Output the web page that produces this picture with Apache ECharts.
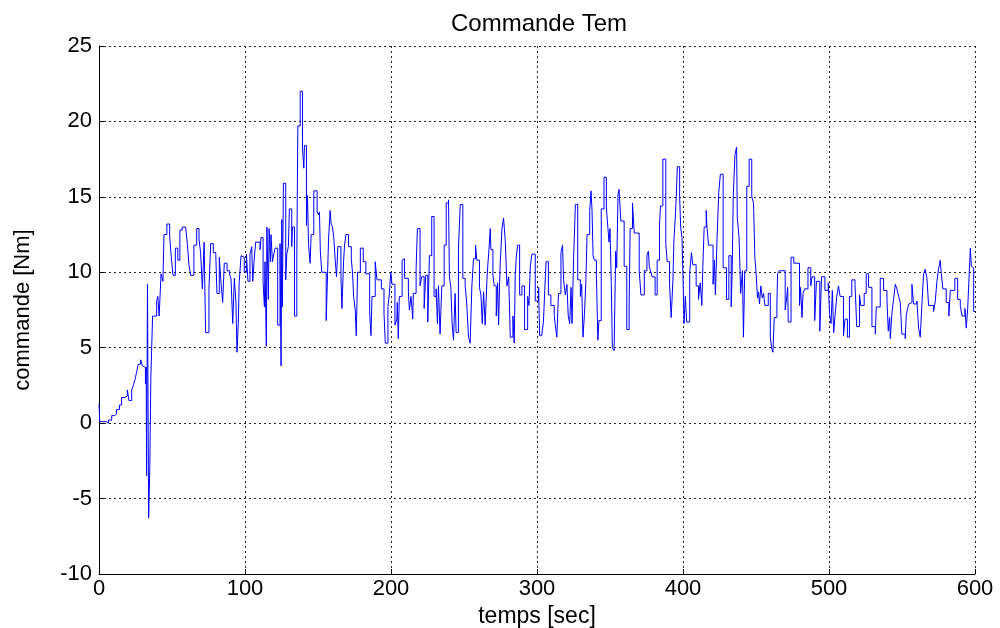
<!DOCTYPE html>
<html>
<head>
<meta charset="utf-8">
<title>Commande Tem</title>
<script src="https://cdn.jsdelivr.net/npm/echarts@6/dist/echarts.min.js"></script>
<style>
  html, body { margin: 0; padding: 0; background: #ffffff; overflow: hidden; }
  #chart { width: 1000px; height: 628px; }
</style>
</head>
<body>
<div id="chart"></div>
<script>
// Couple de commande Tem (Nm) en fonction du temps (s), échantillons [temps, commande]
const tem_0_100 = [
  [0, 1.3], [0.5, 0.1], [5, 0.0], [6.5, 0.2], [8.7, 0.5], [10.5, 0.6], [12, 0.9], [14, 1.2],
  [15.5, 1.7], [17.8, 1.8], [19.4, 2.2], [20.5, 1.5], [22.4, 2.2], [23.5, 2.5], [24.7, 2.9],
  [25.8, 3.4], [26.9, 3.9], [28.5, 4.2], [29.8, 3.8], [30.8, 3.7], [31.8, 2.6], [32.3, 3.7],
  [32.6, -3.5], [33.2, 9.2], [34, -6.3], [34.8, -3.0], [35.5, 3.0], [36.7, 7.1], [39.5, 8.1],
  [40.3, 8.4], [41.2, 7.1], [42.5, 9.9], [43.8, 9.4], [44.5, 12.5], [46.5, 13.2], [48.4, 12.4],
  [49.5, 11.0], [50.7, 9.8], [52.3, 11.6], [54, 10.8], [55.4, 12.8], [57, 13.0], [59.3, 13.1],
  [60.5, 11.9], [61.6, 10.5], [62.8, 9.8], [65, 11.8], [66.9, 12.9], [68.5, 12.2], [69.6, 11.3],
  [70.8, 8.9], [72, 12.0], [73, 6.0], [75.3, 8.9], [76.5, 11.9], [78.3, 11.3], [80, 11.1],
  [80.8, 8.6], [82.4, 11.0], [83.5, 9.4], [84.7, 8.0], [85.8, 10.6], [87.7, 10.1], [89.3, 9.9],
  [90.4, 9.6], [91.6, 6.6], [92.7, 9.6], [93.8, 8.0], [94.5, 4.7], [95.4, 6.6], [96, 9.3],
  [97.3, 11.1], [98.4, 11.0], [99.5, 10.0]
];

const tem_100_200 = [
  [100, 10.0], [101, 11.2], [102, 9.4], [103.4, 11.2], [104.6, 11.7], [105.3, 9.4], [106.4, 11.0],
  [107.3, 12.0], [110.3, 11.5], [111, 12.3], [112.4, 9.3], [113.3, 7.7], [113.7, 10.7], [114.6, 5.1],
  [115, 13.0], [116, 8.2], [116.5, 12.9], [117.4, 10.7], [117.8, 12.5], [118.8, 10.7], [119.7, 11.2],
  [120.6, 11.6], [122.4, 6.5], [124, 11.9], [124.7, 3.8], [125.2, 13.5], [125.6, 7.7], [126.3, 15.9],
  [127.9, 9.5], [128.6, 11.2], [129.7, 11.7], [130.4, 14.2], [132, 11.7], [132.5, 13.0], [133.9, 7.1],
  [135.5, 11.2], [136.2, 19.7], [137.8, 22.0], [139.4, 18.2], [140.3, 16.9], [140.7, 18.4], [142.1, 13.1],
  [142.8, 15.1], [143.5, 11.9], [144.6, 10.6], [145.3, 12.5], [147.1, 15.4], [149.4, 14.0], [150.3, 13.8],
  [151, 14.0], [151.6, 11.4], [152.6, 10.0], [155.6, 6.8], [156.3, 9.0], [157.2, 12.1], [158.3, 14.1],
  [159, 13.2], [159.9, 13.0], [160.8, 12.3], [161.8, 10.8], [162.7, 9.7], [163.6, 11.7], [165.7, 9.7],
  [166.4, 7.6], [167.5, 10.7], [168.2, 11.8], [169.1, 12.5], [170.9, 11.7], [172.8, 10.9], [173.7, 9.9],
  [174.4, 8.4], [175.5, 7.5], [176.2, 5.8], [177.1, 10.0], [179, 11.6], [181, 10.7], [182.8, 9.9],
  [185.4, 7.3], [186.3, 5.8], [187, 8.4], [189.2, 10.7], [190.4, 9.5], [193.4, 8.9], [195.2, 7.3],
  [196.1, 5.3], [197.9, 7.7], [198.9, 8.6], [199.8, 10.0]
];

const tem_200_300 = [
  [200.7, 9.2], [202.7, 6.5], [204, 6.9], [204.3, 8.0], [205, 5.6], [205.7, 8.4], [207.6, 10.8],
  [208.5, 10.9], [209.2, 9.6], [211.9, 8.7], [212.6, 7.5], [213.7, 8.4], [214.9, 6.9], [215.3, 8.6],
  [217.2, 10.3], [218.1, 12.9], [219.9, 9.1], [221, 9.7], [222.7, 7.6], [223.8, 9.8], [225.2, 6.7],
  [226.3, 11.1], [227.9, 13.7], [229.5, 8.4], [230.9, 8.9], [231.8, 6.6], [232.5, 9.1], [233.6, 5.9],
  [234.8, 9.1], [236.4, 11.8], [237.8, 14.6], [239.4, 14.8], [240, 9.7], [241, 9.0], [241.9, 6.5],
  [242.8, 5.5], [243.9, 8.6], [244.6, 6.0], [246.2, 11.5], [247.4, 14.5], [249.2, 9.6], [250.8, 9.1],
  [251.9, 7.9], [253.1, 5.7], [254.2, 5.3], [255.4, 9.1], [256.5, 10.9], [257.9, 11.8], [258.8, 10.8],
  [260.6, 9.0], [261.6, 8.5], [262.5, 6.6], [263.4, 8.7], [264.5, 6.5], [265.7, 9.5], [266.4, 10.6],
  [267.1, 11.5], [268, 12.9], [268.4, 11.5], [269.8, 9.8], [270.7, 9.1], [272.1, 7.1], [273, 9.3],
  [273.7, 6.5], [274.4, 9.3], [274.8, 10.6], [276, 12.9], [277.1, 13.6], [278.3, 12.0], [279.4, 9.1],
  [280.6, 9.7], [281.7, 5.7], [283.5, 7.1], [284.4, 5.3], [285.1, 9.8], [285.8, 11.0], [286.7, 11.8],
  [288.1, 8.5], [289.7, 9.1], [291.5, 6.2], [293.6, 8.4], [294.5, 7.8], [295.4, 10.4], [296.5, 11.2],
  [298.8, 8.1], [301.1, 9.0], [301.8, 5.8]
];

const tem_300_400 = [
  [303.2, 5.9], [304.4, 6.7], [305.3, 8.8], [306.2, 10.7], [307.8, 8.5], [309.5, 7.8], [311.8, 7.2],
  [312.4, 6.6], [313.6, 5.7], [314.7, 8.6], [316.4, 11.3], [317.5, 11.8], [318.2, 9.5], [319.4, 8.5],
  [320.5, 9.2], [321.4, 7.1], [322.4, 6.6], [323.3, 9.0], [324, 6.6], [325.1, 11.0], [326.3, 14.5],
  [327.9, 9.5], [329.7, 8.4], [330.6, 9.2], [331.5, 5.7], [332.5, 7.2], [333.4, 9.2], [334.3, 12.5],
  [336.1, 14.1], [337, 15.4], [337.7, 14.1], [338.4, 11.1], [339.3, 10.8], [340.7, 9.7], [341.7, 5.5],
  [342.4, 6.8], [344, 14.2], [345.9, 16.3], [347.5, 14.3], [348.6, 12.9], [349.3, 12.0], [350, 12.9],
  [350.9, 9.2], [351.6, 5.0], [352.8, 4.8], [353.9, 11.4], [354.6, 10.3], [355.5, 15.2], [356.2, 15.5],
  [357.4, 13.4], [359.7, 10.4], [361.5, 6.2], [363.1, 7.9], [363.8, 12.9], [365.4, 14.6], [366.6, 12.6],
  [370, 10.1], [371.2, 8.5], [373.5, 10.1], [375.3, 11.1], [376.3, 11.4], [377, 10.3], [378.1, 10.0],
  [378.8, 9.7], [380.9, 8.5], [382.3, 10.8], [383.9, 13.1], [384.6, 14.4], [386.2, 17.5], [388.2, 11.9],
  [389.2, 10.7], [390.8, 9.2], [391.9, 7.0], [393.1, 9.5], [393.8, 12.2], [394.7, 13.6], [395.4, 15.0],
  [396.1, 17.0], [397.7, 15.0], [398.4, 13.0], [399.3, 12.3], [400, 9.7], [400.7, 6.6], [401.6, 8.4],
  [402.5, 6.7], [404.6, 10.0]
];

const tem_400_500 = [
  [405.8, 11.3], [406.7, 10.5], [409, 9.1], [410.6, 8.2], [411.8, 9.3], [412.9, 7.8], [413.6, 10.4],
  [414.5, 13.0], [415.9, 14.1], [416.4, 13.0], [417.5, 11.8], [420.6, 9.2], [421.5, 10.8], [422.2, 8.5],
  [423.3, 12.2], [424.5, 15.3], [425.6, 16.5], [427.5, 10.3], [429.8, 8.2], [431.4, 11.1], [433, 7.7],
  [433.7, 10.1], [434.4, 15.0], [435.6, 17.8], [436.7, 18.3], [437.2, 13.6], [438.4, 12.3], [439.5, 8.6],
  [440.7, 10.1], [441.4, 5.7], [442.3, 10.1], [443.7, 15.7], [445.3, 17.5], [447.1, 15.0], [448.3, 14.6],
  [449.2, 11.0], [450.1, 9.9], [451, 8.3], [451.7, 8.7], [452.4, 7.9], [453.3, 9.1], [454.3, 8.3],
  [455.2, 8.6], [456.1, 7.8], [458.4, 8.6], [459.8, 5.7], [460.7, 5.0], [461.6, 4.7], [462.5, 7.0],
  [464.3, 7.9], [464.8, 9.9], [465.9, 10.1], [470, 7.5], [471, 8.3], [471.7, 9.0], [472.1, 6.7],
  [474, 11.0], [475.9, 10.6], [479.8, 7.8], [480.5, 9.0], [481.5, 7.0], [482.2, 8.6], [483.3, 8.9],
  [485.6, 10.3], [487.5, 9.1], [488.4, 9.7], [490.2, 6.8], [491.4, 9.4], [493.7, 6.1], [494.9, 9.7],
  [497.2, 8.8], [499.5, 9.3], [500.4, 7.2], [501.4, 6.6], [502.3, 8.8], [503.2, 6.0], [504.2, 7.2],
  [505.3, 8.4], [506.5, 9.1], [507.6, 8.4]
];

const tem_500_600 = [
  [509.9, 5.8], [511, 6.9], [512.6, 5.7], [514, 8.4], [515.6, 9.5], [517.8, 9.2], [519, 6.4],
  [520.9, 8.5], [521.8, 7.8], [524.1, 8.6], [525.5, 9.9], [527.1, 9.0], [529.4, 6.4], [531.7, 5.9],
  [532.4, 7.7], [535.1, 9.6], [537.4, 8.8], [539.7, 8.2], [540.6, 6.1], [541.5, 7.0], [542, 5.6],
  [543.1, 7.3], [544.2, 8.2], [545.4, 9.2], [546.5, 8.9], [547.7, 8.4], [548.8, 8.0], [549.9, 5.9],
  [552.2, 5.6], [552.9, 7.1], [553.8, 7.6], [554.7, 7.9], [555.7, 8.0], [556.8, 9.2], [557.9, 7.9],
  [560.2, 8.1], [561.4, 6.3], [562.5, 5.7], [563.6, 7.8], [564.8, 9.9], [565.9, 10.2], [567.1, 9.6],
  [568.2, 7.8], [571.6, 7.4], [572.8, 8.1], [573.9, 9.4], [575, 10.2], [576.2, 10.8], [576.9, 9.9],
  [578, 8.9], [580.3, 8.0], [582.1, 7.1], [583.1, 8.8], [586.2, 9.6], [588.1, 8.2], [589.9, 7.8],
  [591.1, 7.1], [593.1, 7.6], [594, 6.3], [595, 7.6], [595.9, 9.6], [596.8, 11.6], [597.5, 10.4],
  [598.2, 10.3], [599.1, 7.4], [600, 7.4]
];

const xTicks = [0, 100, 200, 300, 400, 500, 600];
const yTicks = [-10, -5, 0, 5, 10, 15, 20, 25];

const commande = [].concat(tem_0_100, tem_100_200, tem_200_300, tem_300_400, tem_400_500, tem_500_600);

const FONT = '"Liberation Sans", Arial, Helvetica, sans-serif';
const gridLine = { show: true, lineStyle: { color: '#222', width: 1, type: [2, 3] } };

const chart = echarts.init(document.getElementById('chart'), null, { renderer: 'canvas' });
chart.setOption({
  animation: false,
  backgroundColor: '#ffffff',
  title: {
    text: 'Commande Tem',
    left: 534, top: 7, textAlign: 'center',
    textStyle: { fontFamily: FONT, fontSize: 24, fontWeight: 'normal', color: '#000' }
  },
  // fixed plot rectangle, the axis texts may sit outside it
  grid: { left: 99, right: 25, top: 46, bottom: 54, containLabel: false, outerBoundsMode: 'none' },
  xAxis: {
    type: 'value',
    min: xTicks[0], max: xTicks[xTicks.length - 1], interval: 100,
    name: 'temps [sec]', nameLocation: 'middle', nameGap: 21,
    nameTextStyle: { fontFamily: FONT, fontSize: 23, color: '#000' },
    axisLine: { show: true, onZero: false, lineStyle: { color: '#000', width: 1 } },
    axisTick: { show: true, inside: true, length: 5, lineStyle: { color: '#000' } },
    axisLabel: { fontFamily: FONT, fontSize: 22, color: '#000', margin: 4 },
    splitLine: gridLine
  },
  yAxis: {
    type: 'value',
    min: yTicks[0], max: yTicks[yTicks.length - 1], interval: 5,
    name: 'commande [Nm]', nameLocation: 'middle', nameGap: 65, nameRotate: 90,
    nameTextStyle: { fontFamily: FONT, fontSize: 22, color: '#000' },
    axisLine: { show: true, onZero: false, lineStyle: { color: '#000', width: 1 } },
    axisTick: { show: true, inside: true, length: 5, lineStyle: { color: '#000' } },
    axisLabel: { fontFamily: FONT, fontSize: 22, color: '#000', margin: 7 },
    splitLine: gridLine
  },
  series: [{
    type: 'line',
    data: commande,
    step: 'end',
    showSymbol: false,
    symbol: 'none',
    lineStyle: { color: '#0000ff', width: 1 },
    itemStyle: { color: '#0000ff' },
    z: 3
  }]
});
</script>
</body>
</html>
